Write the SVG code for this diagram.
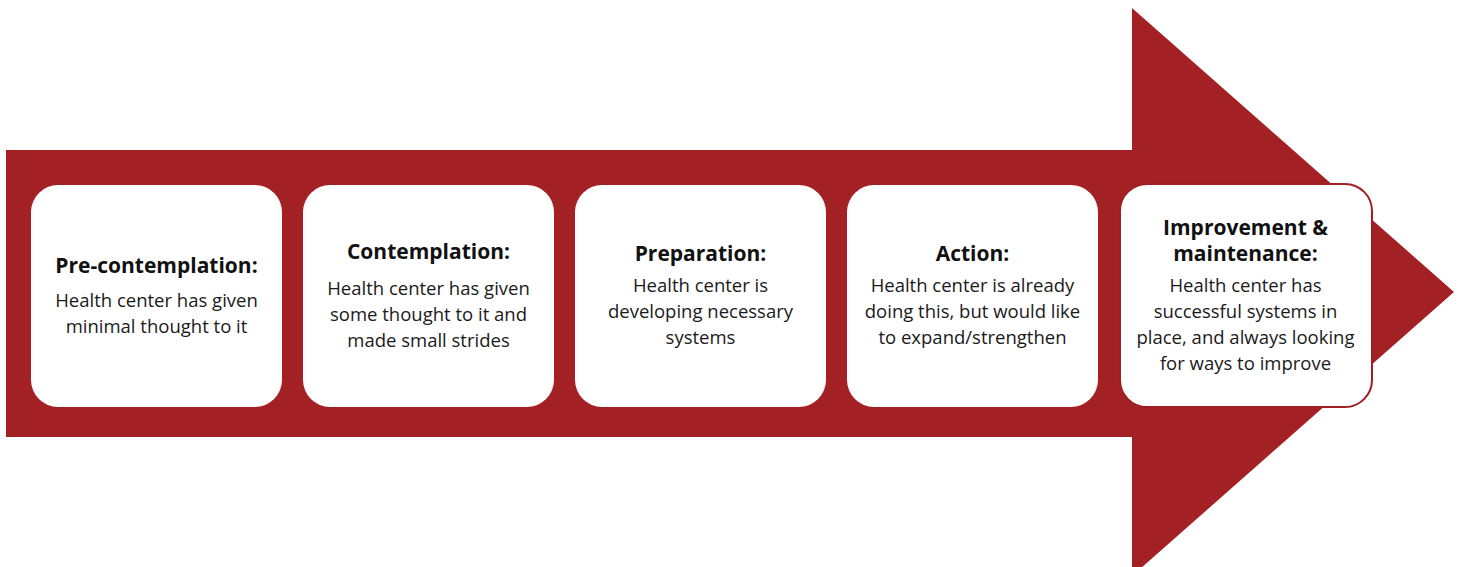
<svg xmlns="http://www.w3.org/2000/svg" width="1461" height="567" viewBox="0 0 1461 567">
<style>
.box{fill:#ffffff}
.t{font-family:"Open Sans","Noto Sans","Liberation Sans",sans-serif;font-weight:700;font-size:21px;fill:#111;text-anchor:middle}
.b{font-family:"Open Sans","Noto Sans","Liberation Sans",sans-serif;font-size:18.5px;fill:#1a1a1a;text-anchor:middle}
</style>
<rect width="1461" height="567" fill="#ffffff"/>
<g id="arrow">
<path d="M6,150 H1132 V8 L1454,292 L1132,576 V437 H6 Z" fill="#a32024"/>
</g>
<g id="connectors"></g>
<g id="node1">
<rect class="box" x="31" y="185" width="251" height="222" rx="27"/>
<text class="t" x="156.5" y="273">Pre-contemplation:</text>
<text class="b" x="156.5" y="307">Health center has given</text>
<text class="b" x="156.5" y="333">minimal thought to it</text>
</g>
<g id="node2">
<rect class="box" x="303" y="185" width="251" height="222" rx="27"/>
<text class="t" x="428.5" y="259">Contemplation:</text>
<text class="b" x="428.5" y="295">Health center has given</text>
<text class="b" x="428.5" y="321">some thought to it and</text>
<text class="b" x="428.5" y="347">made small strides</text>
</g>
<g id="node3">
<rect class="box" x="575" y="185" width="251" height="222" rx="27"/>
<text class="t" x="700.5" y="261">Preparation:</text>
<text class="b" x="700.5" y="292">Health center is</text>
<text class="b" x="700.5" y="318">developing necessary</text>
<text class="b" x="700.5" y="344">systems</text>
</g>
<g id="node4">
<rect class="box" x="847" y="185" width="251" height="222" rx="27"/>
<text class="t" x="972.5" y="261">Action:</text>
<text class="b" x="972.5" y="292">Health center is already</text>
<text class="b" x="972.5" y="318">doing this, but would like</text>
<text class="b" x="972.5" y="344">to expand/strengthen</text>
</g>
<g id="node5">
<rect class="box" x="1120" y="184" width="252" height="223" rx="27" stroke="#9e1f24" stroke-width="2"/>
<text class="t" x="1245.5" y="235">Improvement &amp;</text>
<text class="t" x="1245.5" y="261">maintenance:</text>
<text class="b" x="1245.5" y="292">Health center has</text>
<text class="b" x="1245.5" y="318">successful systems in</text>
<text class="b" x="1245.5" y="344">place, and always looking</text>
<text class="b" x="1245.5" y="370">for ways to improve</text>
</g>
</svg>
